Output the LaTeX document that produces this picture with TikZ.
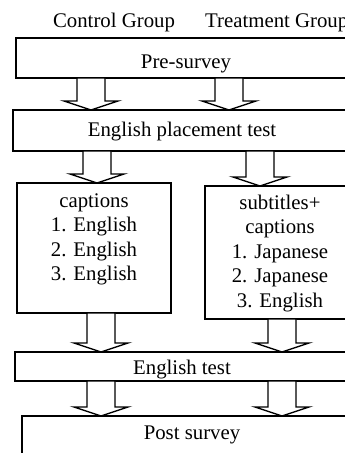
\documentclass[tikz,border=0pt]{standalone}
\usepackage{fontspec}
\setmainfont{Liberation Serif}
\usetikzlibrary{calc}

\tikzset{
  txt/.style={font=\fontsize{20.8}{24.5}\selectfont, inner sep=0pt},
  box/.style={txt, draw, line width=1.4pt, outer sep=0pt, anchor=north west, align=center},
  flowarrow/.style={draw, line width=1.4pt, line join=miter, fill=white}
}

% block arrow from the bottom of #1 to the top of #2, centred at x = #3
\newcommand\flowarrow[3]{%
  \draw[flowarrow] let \p1=(#1.south), \p2=(#2.north) in
    ({#3pt-14pt},\y1) -- ({#3pt-14pt},\y2+9pt) -- ({#3pt-27pt},\y2+9pt)
    -- (#3pt,\y2) -- ({#3pt+27pt},\y2+9pt) -- ({#3pt+14pt},\y2+9pt)
    -- ({#3pt+14pt},\y1) -- cycle;
}

\begin{document}
\begin{tikzpicture}[x=1pt, y=-1pt]
  \useasboundingbox (0,0) rectangle (345,453);
  \clip (0,0) rectangle (345,453);

  % group headings
  \node[txt, anchor=base] (ctrl) at (114,27) {Control Group};
  \node[txt, anchor=base west] (treat) at (205,27) {Treatment Group};

  % stages (text height runs from the top edge to the last baseline)
  \node[box, minimum width=340pt, text height=30pt, text depth=10pt] (pre) at (16,38) {Pre-survey};
  \node[box, minimum width=338pt, text height=26pt, text depth=15pt] (place) at (13,110) {English placement test};
  \node[box, minimum width=154pt, text height=97.5pt, text depth=32.5pt] (lbox) at (17,183)
    {captions\\1. English\\2. English\\3. English};
  \node[box, minimum width=150pt, text height=121pt, text depth=12pt] (rbox) at (205,186)
    {subtitles+\\captions\\1. Japanese\\2. Japanese\\3. English};
  \node[box, minimum width=334pt, text height=22pt, text depth=7pt] (etest) at (15,352) {English test};
  \node[box, minimum width=340pt, text height=23pt, text depth=31pt] (post) at (22,416) {Post survey};

  % flow between stages
  \flowarrow{pre}{place}{91}
  \flowarrow{pre}{place}{229}
  \flowarrow{place}{lbox}{97}
  \flowarrow{place}{rbox}{260}
  \flowarrow{lbox}{etest}{101}
  \flowarrow{rbox}{etest}{282}
  \flowarrow{etest}{post}{101}
  \flowarrow{etest}{post}{282}
\end{tikzpicture}
\end{document}
